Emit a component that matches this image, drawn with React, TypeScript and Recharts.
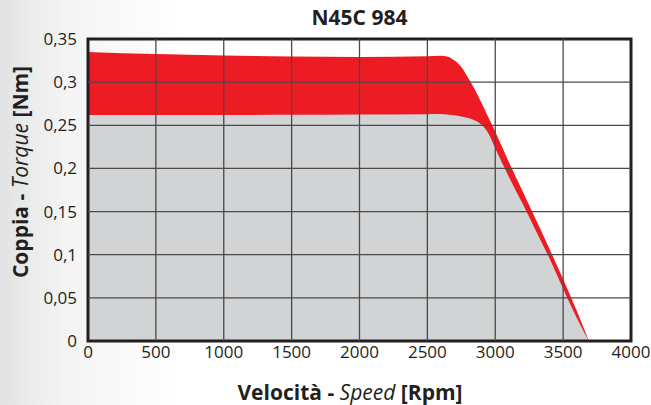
import { AreaChart, Area, XAxis, YAxis, ReferenceArea, ReferenceLine, Label } from 'recharts';

// speed (rpm) sampled along the curves
const SPEED = [0, 500, 1000, 1500, 2000, 2500, 2600, 2650, 2700, 2750, 2800, 2850, 2900, 2950, 3000, 3100, 3200, 3300, 3400, 3500, 3600, 3690];
// peak torque (red band top)
const PEAK = [0.335, 0.3325, 0.331, 0.3298, 0.3292, 0.33, 0.3305, 0.3295, 0.325, 0.3175, 0.305, 0.2915, 0.2755, 0.259, 0.2425, 0.2075, 0.174, 0.1405, 0.1065, 0.0715, 0.035, 0];
// continuous torque (grey area)
const CONT = [0.262, 0.262, 0.262, 0.2622, 0.2625, 0.2628, 0.263, 0.2625, 0.2615, 0.2603, 0.2585, 0.2555, 0.2505, 0.2405, 0.2235, 0.1905, 0.1595, 0.1275, 0.0955, 0.0605, 0.027, 0];

const X_TICKS = [0, 500, 1000, 1500, 2000, 2500, 3000, 3500, 4000];
const Y_TICKS = [0, 0.05, 0.1, 0.15, 0.2, 0.25, 0.3, 0.35];

const data = SPEED.map((speed, i) => ({ speed, peak: PEAK[i], cont: CONT[i] }));

const FONT = '"Open Sans", "Noto Sans", sans-serif';
const INK = '#231f20';
const GRID = '#4a4a4a';

const XTitle = () => (
  <text x={350} y={400} textAnchor="middle" fill={INK} fontFamily={FONT} fontSize={21} fontWeight={700}>
    Velocità - <tspan fontStyle="italic" fontWeight={400}>Speed</tspan> [Rpm]
  </text>
);

const YTitle = () => (
  <text x={28} y={172} transform="rotate(-90, 28, 172)" textAnchor="middle" fill={INK} fontFamily={FONT} fontSize={21} fontWeight={700}>
    Coppia - <tspan fontStyle="italic" fontWeight={400}>Torque</tspan> [Nm]
  </text>
);

export default function App() {
  return (
    <div
      style={{
        position: 'absolute',
        left: 0,
        top: 0,
        width: 651,
        height: 405,
        background: 'linear-gradient(to right, #e2e3e4 0%, #f4f4f4 10%, #ffffff 28%)',
        fontFamily: FONT
      }}
    >
      <div
        style={{
          position: 'absolute',
          top: 3,
          left: 88,
          width: 543,
          textAlign: 'center',
          fontSize: 21,
          lineHeight: '28px',
          fontWeight: 700,
          color: INK
        }}
      >
        N45C 984
      </div>
      <AreaChart width={651} height={405} data={data} margin={{ top: 39, right: 20, bottom: 34, left: 0 }}>
        <XAxis
          dataKey="speed"
          type="number"
          domain={[0, 4000]}
          ticks={X_TICKS}
          axisLine={false}
          tickLine={false}
          tickSize={0}
          tickMargin={5}
          height={30}
          tick={{ fill: INK, fontSize: 17, fontFamily: FONT }}
        >
          <Label content={XTitle} />
        </XAxis>
        <YAxis
          type="number"
          domain={[0, 0.35]}
          ticks={Y_TICKS}
          width={88}
          axisLine={false}
          tickLine={false}
          tickSize={0}
          tickMargin={11}
          tickFormatter={(v: number) => String(v).replace('.', ',')}
          tick={{ fill: INK, fontSize: 17, fontFamily: FONT }}
        >
          <Label content={YTitle} />
        </YAxis>
        <Area type="monotone" dataKey="peak" stroke="none" fill="#ed1c24" fillOpacity={1} isAnimationActive={false} />
        <Area type="monotone" dataKey="cont" stroke="none" fill="#d1d3d4" fillOpacity={1} isAnimationActive={false} />
        {X_TICKS.slice(1, -1).map((t) => (
          <ReferenceLine key={'x' + t} x={t} stroke={GRID} strokeWidth={1.3} />
        ))}
        {Y_TICKS.slice(1, -1).map((t) => (
          <ReferenceLine key={'y' + t} y={t} stroke={GRID} strokeWidth={1.3} />
        ))}
        <ReferenceArea x1={0} x2={4000} y1={0} y2={0.35} fill="none" stroke={INK} strokeWidth={3} ifOverflow="visible" />
      </AreaChart>
    </div>
  );
}
